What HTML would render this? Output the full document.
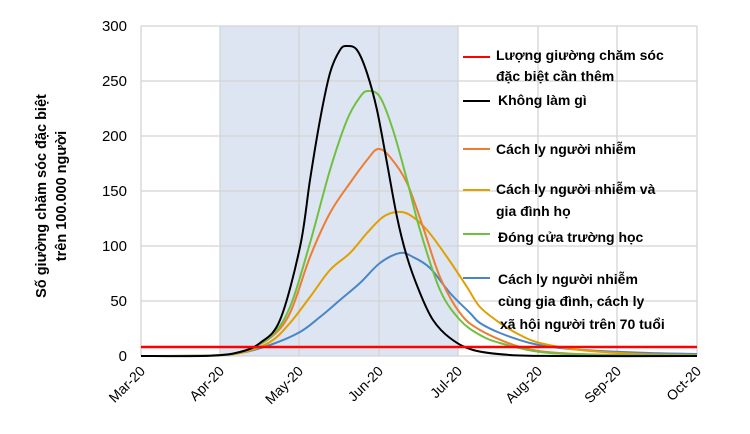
<!DOCTYPE html>
<html><head><meta charset="utf-8"><style>
body{margin:0;background:#fff;width:750px;height:429px;overflow:hidden}
svg text{font-family:"Liberation Sans","DejaVu Sans",sans-serif}
</style></head><body>
<svg id="s" width="750" height="429" xmlns="http://www.w3.org/2000/svg">
<rect x="220" y="26" width="238" height="330" fill="#dde5f3"/>
<g stroke="#d4d4d4" stroke-width="1.3">
<line x1="141" y1="26" x2="697" y2="26"/><line x1="141" y1="81" x2="697" y2="81"/>
<line x1="141" y1="136" x2="697" y2="136"/><line x1="141" y1="191" x2="697" y2="191"/>
<line x1="141" y1="246" x2="697" y2="246"/><line x1="141" y1="301" x2="697" y2="301"/>
<line x1="141" y1="356" x2="697" y2="356"/>
<line x1="141" y1="26" x2="141" y2="356"/><line x1="220" y1="26" x2="220" y2="356"/>
<line x1="299" y1="26" x2="299" y2="356"/><line x1="379" y1="26" x2="379" y2="356"/>
<line x1="458" y1="26" x2="458" y2="356"/><line x1="538" y1="26" x2="538" y2="356"/>
<line x1="617" y1="26" x2="617" y2="356"/><line x1="697" y1="26" x2="697" y2="356"/>
</g>
<g id="curves" fill="none" stroke-width="2"></g>
<line x1="141" y1="347" x2="697" y2="347" stroke="#ff0000" stroke-width="2.5"/>
<g font-size="15" text-anchor="end" fill="#000">
<text x="127" y="31">300</text><text x="127" y="86">250</text><text x="127" y="141">200</text>
<text x="127" y="196">150</text><text x="127" y="251">100</text><text x="127" y="306">50</text>
<text x="127" y="361">0</text></g>
<g font-size="14" text-anchor="end" fill="#000">
<text transform="translate(146,372) rotate(-45)">Mar-20</text>
<text transform="translate(225,372) rotate(-45)">Apr-20</text>
<text transform="translate(304,372) rotate(-45)">May-20</text>
<text transform="translate(384,372) rotate(-45)">Jun-20</text>
<text transform="translate(463,372) rotate(-45)">Jul-20</text>
<text transform="translate(543,372) rotate(-45)">Aug-20</text>
<text transform="translate(622,372) rotate(-45)">Sep-20</text>
<text transform="translate(702,372) rotate(-45)">Oct-20</text>
</g>
<g font-size="14.5" font-weight="bold" text-anchor="middle" fill="#000">
<text transform="translate(46,196) rotate(-90)">Số giường chăm sóc đặc biệt</text>
<text transform="translate(66,196) rotate(-90)">trên 100.000 người</text>
</g>
<g stroke-width="2">
<line x1="463" y1="57" x2="490" y2="57" stroke="#ff0000"/>
<line x1="463" y1="101" x2="490" y2="101" stroke="#000"/>
<line x1="463" y1="149" x2="490" y2="149" stroke="#ed7d31"/>
<line x1="463" y1="190" x2="490" y2="190" stroke="#e0a000"/>
<line x1="463" y1="234" x2="490" y2="234" stroke="#70c040"/>
<line x1="463" y1="278" x2="490" y2="278" stroke="#4a86c6"/>
</g>
<g font-size="14" font-weight="bold" fill="#000">
<text x="496" y="60">Lượng giường chăm sóc</text>
<text x="496" y="81">đặc biệt cần thêm</text>
<text x="498" y="105">Không làm gì</text>
<text x="496" y="154">Cách ly người nhiễm</text>
<text x="496" y="194">Cách ly người nhiễm và</text>
<text x="496" y="216">gia đình họ</text>
<text x="498" y="242">Đóng cửa trường học</text>
<text x="498" y="284">Cách ly người nhiễm</text>
<text x="498" y="306">cùng gia đình, cách ly</text>
<text x="500" y="329">xã hội người trên 70 tuổi</text>
</g>
</svg>
<script>
var S=[
["#4a86c6",[[141,356],[210,355.5],[240,353],[270,345],[300,332],[320,317],[340,300],[360,283],[380,263],[400,253],[413,257],[430,268],[450,293],[470,313],[480,323],[500,333],[530,343],[560,348],[600,351],[650,353],[697,354]]],
["#e0a000",[[141,356],[210,355.5],[240,353],[270,342],[290,323],[310,297],[330,270],[350,253],[367,233],[383,217],[397,212],[410,215],[427,230],[447,257],[467,287],[480,307],[500,323],[520,335],[540,343],[580,350],[640,354],[697,355]]],
["#ed7d31",[[141,356],[210,355.5],[240,352],[270,338],[290,313],[310,257],[330,213],[350,183],[367,160],[378,149],[390,157],[407,183],[423,227],[440,277],[460,313],[480,330],[520,347],[560,353],[620,355],[697,355.5]]],
["#70c040",[[141,356],[210,355.5],[240,352],[270,337],[290,307],[310,243],[330,170],[347,120],[360,97],[368,91],[380,97],[393,130],[407,180],[420,230],[440,290],[460,320],[480,335],[500,343],[540,352],[600,355],[697,355.5]]],
["#000000",[[141,356],[210,355.8],[240,352],[260,343],[280,320],[300,247],[310,180],[320,120],[330,73],[340,50],[347,46],[357,50],[367,73],[377,110],[387,163],[397,217],[407,257],[420,293],[433,320],[450,338],[473,350],[510,355],[560,356],[697,356]]]
];
var g=document.getElementById('curves'),ns="http://www.w3.org/2000/svg";
S.forEach(function(s){var P=s[1],d="M"+P[0][0]+" "+P[0][1];
for(var i=0;i<P.length-1;i++){var p0=P[Math.max(0,i-1)],p1=P[i],p2=P[i+1],p3=P[Math.min(P.length-1,i+2)];
var c1x=p1[0]+(p2[0]-p0[0])/6,c1y=p1[1]+(p2[1]-p0[1])/6,c2x=p2[0]-(p3[0]-p1[0])/6,c2y=p2[1]-(p3[1]-p1[1])/6;
d+=" C"+c1x.toFixed(1)+" "+c1y.toFixed(1)+" "+c2x.toFixed(1)+" "+c2y.toFixed(1)+" "+p2[0]+" "+p2[1];}
var p=document.createElementNS(ns,"path");p.setAttribute("d",d);p.setAttribute("stroke",s[0]);g.appendChild(p);});
</script>
</body></html>
